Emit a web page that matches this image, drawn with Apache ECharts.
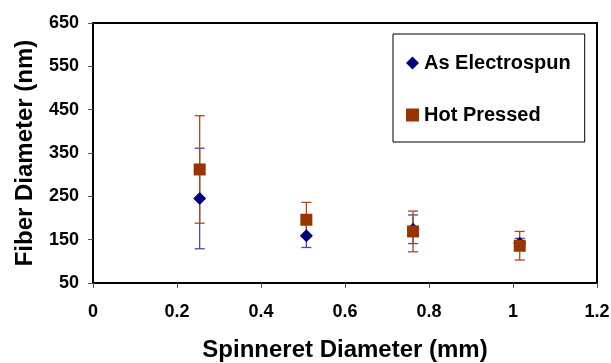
<!DOCTYPE html>
<html>
<head>
<meta charset="utf-8">
<script src="https://cdn.jsdelivr.net/npm/echarts@6/dist/echarts.min.js"></script>
<style>
  html, body { margin: 0; padding: 0; background: #fff; }
  #chart { width: 611px; height: 363px; }
</style>
</head>
<body>
<div id="chart"></div>
<script>
// spinneret diameters (mm)
const spinneretDiameters = [0.254, 0.508, 0.762, 1.016];

// fiber diameter (nm), mean and error half-width
const electrospunMean = [245, 159, 174, 142];
const electrospunErr = [116, 27, 33, 11];
const hotPressedMean = [312, 196, 169, 136];
const hotPressedErr = [124, 40, 47, 33];

const xTicks = [0, 0.2, 0.4, 0.6, 0.8, 1, 1.2];
const yTicks = [50, 150, 250, 350, 450, 550, 650];

const seriesNames = ["As Electrospun", "Hot Pressed"];

const FONT = '"Liberation Sans", Arial, sans-serif';

const chart = echarts.init(document.getElementById("chart"), null, { renderer: "canvas" });

const errorRenderer = (color) => (params, api) => {
  const x = api.value(0);
  const mean = api.value(1);
  const err = api.value(2);
  const top = api.coord([x, mean + err]);
  const bottom = api.coord([x, mean - err]);
  const cap = 5;
  const style = { stroke: color, lineWidth: 1.3 };
  return {
    type: "group",
    children: [
      { type: "line", shape: { x1: top[0], y1: top[1], x2: bottom[0], y2: bottom[1] }, style },
      { type: "line", shape: { x1: top[0] - cap, y1: top[1], x2: top[0] + cap, y2: top[1] }, style },
      { type: "line", shape: { x1: bottom[0] - cap, y1: bottom[1], x2: bottom[0] + cap, y2: bottom[1] }, style },
    ],
  };
};

const option = {
  animation: false,
  backgroundColor: "#fff",
  grid: {
    left: 93,
    right: 14,
    top: 23,
    bottom: 80,
    show: true,
    borderColor: "#000",
    borderWidth: 2,
    containLabel: false,
    outerBoundsMode: "none",
  },
  legend: {
    orient: "vertical",
    left: 393,
    top: 34,
    backgroundColor: "#fff",
    borderColor: "#000",
    borderWidth: 1,
    padding: [19, 14, 17, 13],
    itemWidth: 13,
    itemHeight: 13,
    itemGap: 32,
    textStyle: {
      fontFamily: FONT,
      fontSize: 20,
      fontWeight: "bold",
      color: "#000",
      lineHeight: 20,
    },
    data: [
      { name: seriesNames[0], icon: "diamond" },
      { name: seriesNames[1], icon: "rect" },
    ],
  },
  xAxis: {
    type: "value",
    min: xTicks[0],
    max: xTicks[xTicks.length - 1],
    interval: 0.2,
    name: "Spinneret Diameter (mm)",
    nameLocation: "middle",
    nameGap: 55,
    nameTextStyle: { fontFamily: FONT, fontSize: 24, fontWeight: "bold", color: "#000" },
    axisLine: { show: true, lineStyle: { color: "#000", width: 2 } },
    axisTick: { show: true, inside: false, length: 5, lineStyle: { color: "#555", width: 1 } },
    splitLine: { show: false },
    axisLabel: {
      margin: 20,
      fontFamily: FONT,
      fontSize: 18,
      fontWeight: "bold",
      color: "#000",
      formatter: (v) => String(Math.round(v * 10) / 10),
    },
  },
  yAxis: {
    type: "value",
    min: yTicks[0],
    max: yTicks[yTicks.length - 1],
    interval: yTicks[1] - yTicks[0],
    name: "Fiber Diameter (nm)",
    nameLocation: "middle",
    nameGap: 56,
    nameRotate: 90,
    nameTextStyle: { fontFamily: FONT, fontSize: 24, fontWeight: "bold", color: "#000" },
    axisLine: { show: true, lineStyle: { color: "#000", width: 2 } },
    axisTick: { show: true, inside: false, length: 5, lineStyle: { color: "#555", width: 1 } },
    splitLine: { show: false },
    axisLabel: {
      margin: 14,
      fontFamily: FONT,
      fontSize: 18,
      fontWeight: "bold",
      color: "#000",
    },
  },
  series: [
    {
      type: "custom",
      silent: true,
      z: 2,
      renderItem: errorRenderer("#4a4aa8"),
      data: spinneretDiameters.map((x, i) => [x, electrospunMean[i], electrospunErr[i]]),
    },
    {
      type: "custom",
      silent: true,
      z: 3,
      renderItem: errorRenderer("#b0461a"),
      data: spinneretDiameters.map((x, i) => [x, hotPressedMean[i], hotPressedErr[i]]),
    },
    {
      name: seriesNames[0],
      type: "scatter",
      z: 4,
      symbol: "diamond",
      symbolSize: 13,
      itemStyle: { color: "#000080", opacity: 1 },
      data: spinneretDiameters.map((x, i) => [x, electrospunMean[i]]),
    },
    {
      name: seriesNames[1],
      type: "scatter",
      z: 5,
      symbol: "rect",
      symbolSize: 12,
      itemStyle: { color: "#993300", opacity: 1 },
      data: spinneretDiameters.map((x, i) => [x, hotPressedMean[i]]),
    },
  ],
};

chart.setOption(option);
</script>
</body>
</html>
